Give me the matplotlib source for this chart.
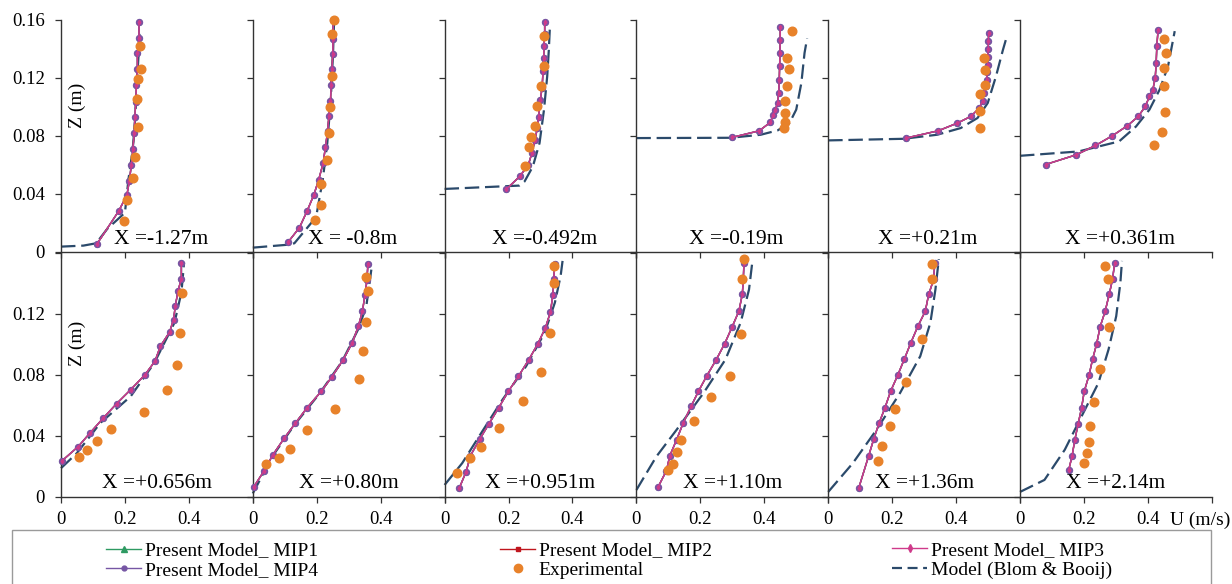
import matplotlib
matplotlib.use('Agg')
import matplotlib.pyplot as plt
from matplotlib.lines import Line2D
from matplotlib.patches import Rectangle

plt.rcParams['font.family'] = ['Liberation Serif', 'DejaVu Serif']

# ---------------- data ----------------
panel_labels = ["X =-1.27m", "X = -0.8m", "X =-0.492m", "X =-0.19m", "X =+0.21m", "X =+0.361m",
                "X =+0.656m", "X =+0.80m", "X =+0.951m", "X =+1.10m", "X =+1.36m", "X =+2.14m"]

# Present model (MIP1..MIP4 overlap in the figure)
mip_u = [
    [0.112, 0.18, 0.206, 0.214, 0.220, 0.225, 0.229, 0.231, 0.234, 0.236, 0.239, 0.239, 0.244, 0.244],
    [0.11, 0.146, 0.17, 0.191, 0.206, 0.220, 0.227, 0.234, 0.238, 0.243, 0.245, 0.248, 0.25, 0.251, 0.252],
    [0.193, 0.235, 0.262, 0.273, 0.283, 0.290, 0.294, 0.2995, 0.305, 0.308, 0.310, 0.311, 0.313, 0.313],
    [0.30, 0.384, 0.419, 0.428, 0.4345, 0.442, 0.445, 0.447, 0.448, 0.449, 0.45, 0.45],
    [0.243, 0.344, 0.404, 0.446, 0.4725, 0.483, 0.488, 0.493, 0.496, 0.497, 0.499, 0.499, 0.501, 0.501, 0.502],
    [0.080, 0.176, 0.236, 0.289, 0.336, 0.370, 0.392, 0.405, 0.4155, 0.423, 0.426, 0.428, 0.432],
    [0.004, 0.0538, 0.0918, 0.132, 0.174, 0.218, 0.2627, 0.294, 0.311, 0.3396, 0.352, 0.3576, 0.366, 0.3766, 0.3766],
    [0.003, 0.0348, 0.0623, 0.098, 0.133, 0.17, 0.214, 0.248, 0.2826, 0.311, 0.330, 0.343, 0.351, 0.357, 0.36],
    [0.0465, 0.0675, 0.081, 0.11, 0.139, 0.1687, 0.1994, 0.231, 0.2637, 0.292, 0.3155, 0.331, 0.3386, 0.342, 0.344],
    [0.0675, 0.094, 0.1044, 0.1256, 0.1465, 0.171, 0.194, 0.2205, 0.25, 0.2763, 0.2996, 0.3206, 0.3313, 0.3344, 0.3365],
    [0.0959, 0.1266, 0.1424, 0.1593, 0.1772, 0.1952, 0.2173, 0.2384, 0.2585, 0.2806, 0.3038, 0.3143, 0.33, 0.3333],
    [0.1525, 0.163, 0.1715, 0.182, 0.1925, 0.201, 0.2158, 0.2273, 0.24, 0.2506, 0.2665, 0.279, 0.2895, 0.296],
]
mip_z = [
    [0.0053, 0.028, 0.039, 0.049, 0.060, 0.071, 0.082, 0.093, 0.103, 0.115, 0.126, 0.137, 0.147, 0.158],
    [0.0067, 0.0168, 0.0283, 0.0393, 0.0497, 0.061, 0.072, 0.083, 0.0933, 0.104, 0.115, 0.126, 0.1366, 0.1467, 0.1595],
    [0.0432, 0.052, 0.060, 0.068, 0.0772, 0.0853, 0.0929, 0.1048, 0.113, 0.1248, 0.1336, 0.1416, 0.1497, 0.158],
    [0.0789, 0.0834, 0.0892, 0.0945, 0.098, 0.1025, 0.1094, 0.1186, 0.1278, 0.137, 0.146, 0.1547],
    [0.0784, 0.0834, 0.0887, 0.0933, 0.099, 0.104, 0.1094, 0.114, 0.1186, 0.1237, 0.129, 0.1343, 0.1398, 0.145, 0.1508],
    [0.0602, 0.0669, 0.0733, 0.080, 0.0869, 0.0933, 0.1002, 0.1071, 0.1117, 0.1198, 0.130, 0.1416, 0.153],
    [0.0236, 0.0328, 0.042, 0.0515, 0.061, 0.0702, 0.080, 0.0889, 0.0988, 0.108, 0.1163, 0.1251, 0.135, 0.1432, 0.1533],
    [0.0063, 0.0167, 0.0272, 0.0382, 0.0481, 0.0584, 0.069, 0.0788, 0.0898, 0.1009, 0.1118, 0.1217, 0.1327, 0.142, 0.1525],
    [0.0058, 0.0164, 0.0269, 0.0377, 0.0478, 0.0581, 0.0691, 0.079, 0.090, 0.1005, 0.1109, 0.1212, 0.1322, 0.1427, 0.1526],
    [0.0061, 0.017, 0.0267, 0.0372, 0.0483, 0.0592, 0.0691, 0.0794, 0.090, 0.1005, 0.1115, 0.1218, 0.1328, 0.1427, 0.1537],
    [0.0058, 0.0267, 0.0377, 0.0483, 0.0581, 0.0691, 0.0796, 0.0904, 0.101, 0.1119, 0.1218, 0.1328, 0.1427, 0.1533],
    [0.0175, 0.0267, 0.0372, 0.0478, 0.0581, 0.0691, 0.0796, 0.0904, 0.1005, 0.1115, 0.1218, 0.1328, 0.1427, 0.1533],
]

# Experimental
exp_u = [
    [0.198, 0.205, 0.224, 0.231, 0.240, 0.239, 0.240, 0.250, 0.248],
    [0.195, 0.212, 0.214, 0.231, 0.237, 0.2415, 0.247, 0.249, 0.253],
    [0.251, 0.264, 0.271, 0.283, 0.289, 0.302, 0.310, 0.312],
    [0.461, 0.465, 0.465, 0.465, 0.4715, 0.477, 0.4715, 0.487],
    [0.4757, 0.4757, 0.4757, 0.4915, 0.4905, 0.486],
    [0.418, 0.444, 0.4547, 0.4505, 0.449, 0.458, 0.4505],
    [0.056, 0.082, 0.114, 0.157, 0.2595, 0.331, 0.363, 0.373, 0.379],
    [0.040, 0.082, 0.115, 0.168, 0.256, 0.331, 0.346, 0.3555, 0.36, 0.3535],
    [0.038, 0.078, 0.113, 0.1687, 0.2447, 0.3028, 0.331, 0.3428, 0.3407],
    [0.099, 0.1149, 0.1256, 0.138, 0.181, 0.234, 0.2943, 0.326, 0.3313, 0.3365],
    [0.156, 0.1687, 0.193, 0.2099, 0.2437, 0.2933, 0.325, 0.325],
    [0.201, 0.2094, 0.2158, 0.219, 0.2304, 0.2506, 0.277, 0.2747, 0.2665],
]
exp_z = [
    [0.0216, 0.036, 0.051, 0.0655, 0.086, 0.105, 0.119, 0.126, 0.142],
    [0.0219, 0.0322, 0.0467, 0.063, 0.082, 0.0998, 0.121, 0.150, 0.1595],
    [0.0593, 0.0726, 0.0788, 0.0864, 0.1007, 0.1145, 0.128, 0.1485],
    [0.0853, 0.0892, 0.0956, 0.1037, 0.114, 0.126, 0.1336, 0.152],
    [0.0853, 0.0968, 0.109, 0.115, 0.125, 0.1336],
    [0.0738, 0.0823, 0.0963, 0.114, 0.1267, 0.137, 0.1467],
    [0.026, 0.0305, 0.0364, 0.0443, 0.0557, 0.070, 0.0862, 0.1076, 0.134],
    [0.0213, 0.0254, 0.0312, 0.0435, 0.0575, 0.0771, 0.0953, 0.1147, 0.1349, 0.1443],
    [0.0157, 0.0252, 0.0328, 0.045, 0.0625, 0.0819, 0.1076, 0.140, 0.1515],
    [0.0175, 0.0214, 0.0295, 0.0372, 0.0498, 0.0654, 0.0794, 0.1071, 0.1432, 0.156],
    [0.0236, 0.0335, 0.046, 0.0577, 0.0753, 0.1032, 0.1432, 0.1526],
    [0.0223, 0.0285, 0.0361, 0.0465, 0.0618, 0.084, 0.1115, 0.1432, 0.1515],
]

# Model (Blom & Booij)
blom_u = [
    [0, 0.07, 0.11, 0.145, 0.20, 0.211, 0.224, 0.232, 0.237, 0.243, 0.246],
    [0, 0.109, 0.13, 0.198, 0.219, 0.233, 0.244, 0.251, 0.254],
    [0, 0.234, 0.25, 0.276, 0.297, 0.311, 0.321, 0.326, 0.329],
    [0, 0.294, 0.389, 0.442, 0.479, 0.5, 0.516, 0.526, 0.534],
    [0, 0.235, 0.341, 0.4146, 0.467, 0.499, 0.525, 0.5465, 0.559],
    [0, 0.1835, 0.31, 0.363, 0.405, 0.4367, 0.463, 0.484],
    [0, 0.0496, 0.123, 0.218, 0.292, 0.355, 0.3766, 0.385],
    [0, 0.06, 0.13, 0.21, 0.28, 0.33, 0.355, 0.365, 0.372],
    [0, 0.055, 0.1076, 0.181, 0.255, 0.313, 0.345, 0.363, 0.369],
    [0, 0.0623, 0.1256, 0.21, 0.2785, 0.326, 0.3523, 0.363],
    [0, 0.077, 0.151, 0.2247, 0.288, 0.3196, 0.3354, 0.346],
    [0, 0.0766, 0.14, 0.1924, 0.2453, 0.277, 0.301, 0.314, 0.319],
]
blom_z = [
    [0.0037, 0.0044, 0.006, 0.016, 0.027, 0.050, 0.070, 0.091, 0.114, 0.137, 0.153],
    [0.003, 0.005, 0.006, 0.024, 0.05, 0.075, 0.105, 0.137, 0.157],
    [0.0434, 0.0457, 0.0485, 0.0588, 0.075, 0.098, 0.121, 0.139, 0.153],
    [0.0784, 0.0786, 0.0807, 0.0837, 0.0888, 0.098, 0.1163, 0.137, 0.147],
    [0.0768, 0.0779, 0.0807, 0.0853, 0.0922, 0.1025, 0.121, 0.139, 0.1485],
    [0.0662, 0.0692, 0.0761, 0.0864, 0.098, 0.1117, 0.1278, 0.152],
    [0.0186, 0.0285, 0.0483, 0.0658, 0.0878, 0.1142, 0.134, 0.1537],
    [0.002, 0.026, 0.047, 0.068, 0.089, 0.110, 0.125, 0.14, 0.151],
    [0.0076, 0.0219, 0.0394, 0.0636, 0.0856, 0.1076, 0.1274, 0.145, 0.1548],
    [0.0043, 0.0262, 0.0438, 0.068, 0.090, 0.1142, 0.136, 0.1548],
    [0.003, 0.0219, 0.0438, 0.068, 0.0922, 0.1142, 0.136, 0.156],
    [0.003, 0.0109, 0.0307, 0.0526, 0.0746, 0.0966, 0.1185, 0.1405, 0.1548],
]

x_ticks = [0, 0.2, 0.4, 0.6]
x_ticklabels = ['0', '0.2', '0.4', '']
y_ticks = [0, 0.04, 0.08, 0.12, 0.16]
y_ticklabels_top = ['0', '0.04', '0.08', '0.12', '0.16']
y_ticklabels_bottom = ['0', '0.04', '0.08', '0.12', '']

series_names = ['Present Model_ MIP1', 'Present Model_ MIP2', 'Present Model_ MIP3',
                'Present Model_ MIP4', 'Experimental', 'Model (Blom & Booij)']

# ---------------- style ----------------
C_MIP1 = '#2e9a62'
C_MIP2 = '#c0161e'
C_MIP3 = '#cf3a8a'
C_MIP4 = '#7656a4'
C_EXP = '#e8822a'
C_BLOM = '#2b4a6b'
C_SPINE = '#333333'
BLOM_DASH = (0, (6.5, 2.6))

W, H = 1232, 584
fig = plt.figure(figsize=(W / 100, H / 100), dpi=100)


def px_axes(l, t, r, b):
    return fig.add_axes([l / W, 1 - b / H, (r - l) / W, (b - t) / H])


col_w = 191.8
left0 = 61.0
rows = [(19.5, 252.0), (253.0, 496.5)]

for i in range(12):
    r, c = divmod(i, 6)
    t, b = rows[r]
    l = left0 + c * col_w
    ax = px_axes(l, t, l + col_w, b)
    ax.patch.set_visible(False)
    ax.set_xlim(0, 0.6)
    ax.set_ylim(0, 0.16)
    for s in ('top', 'right'):
        ax.spines[s].set_visible(False)
    for s in ('left', 'bottom'):
        ax.spines[s].set_color(C_SPINE)
        ax.spines[s].set_linewidth(1.0)

    ax.plot(blom_u[i], blom_z[i], color=C_BLOM, lw=1.6, ls=BLOM_DASH, zorder=2, clip_on=False)
    ax.plot(mip_u[i], mip_z[i], color=C_MIP1, lw=1.0, marker='^', ms=3, zorder=3, clip_on=False)
    ax.plot(mip_u[i], mip_z[i], color=C_MIP2, lw=1.0, marker='s', ms=3, zorder=3, clip_on=False)
    ax.plot(mip_u[i], mip_z[i], color=C_MIP4, lw=1.1, marker='o', ms=4.3, zorder=4, clip_on=False)
    ax.plot(mip_u[i], mip_z[i], color=C_MIP3, lw=0.9, marker='d', ms=2.2, zorder=5, clip_on=False)
    ax.plot(exp_u[i], exp_z[i], ls='none', marker='o', ms=6.2, color=C_EXP, mec=C_EXP, zorder=6, clip_on=False)

    ax.set_xticks(x_ticks)
    ax.set_yticks(y_ticks)
    if r == 1:
        ax.set_xticklabels(x_ticklabels)
    else:
        ax.set_xticklabels([])
    if c == 0:
        ax.set_yticklabels(y_ticklabels_top if r == 0 else y_ticklabels_bottom)
        ax.text(0.083, 0.63, 'Z (m)', rotation=90, transform=ax.transAxes,
                ha='center', va='center', fontsize=14)
    else:
        ax.set_yticklabels([])
    ax.tick_params(axis='both', direction='out', length=4.5, width=0.9, colors=C_SPINE,
                   labelcolor='black', labelsize=13.5)
    ax.tick_params(axis='x', pad=6)
    ax.tick_params(axis='y', pad=7)

    ax.text(0.52 if r == 0 else 0.50, 0.053, panel_labels[i], transform=ax.transAxes,
            ha='center', va='center', fontsize=15.5)

fig.text(1170 / W, 1 - 520 / H, 'U (m/s)', ha='left', va='center', fontsize=14)

# legend frame
fig.patches.append(Rectangle((11.7 / W, -0.01), (1211 - 11.7) / W, (584 - 530) / H + 0.01,
                             transform=fig.transFigure, facecolor='none',
                             edgecolor='#9a9a9a', lw=1.0))

h1 = Line2D([], [], color=C_MIP1, marker='^', ms=4, lw=1.0)
h2 = Line2D([], [], color=C_MIP2, marker='s', ms=3.5, lw=1.0)
h3 = Line2D([], [], color=C_MIP3, marker='d', ms=4, lw=1.0)
h4 = Line2D([], [], color=C_MIP4, marker='o', ms=3.5, lw=1.0)
h5 = Line2D([], [], color=C_EXP, marker='o', ms=6, ls='none')
h6 = Line2D([], [], color=C_BLOM, ls=(0, (4.5, 2.5)), lw=1.6)

leg_kw = dict(loc='center left', frameon=False, borderpad=0, borderaxespad=0,
              handlelength=1.8, handletextpad=0.2, labelspacing=0.12, fontsize=14)
yc = 1 - 560.5 / H
fig.legend([h1, h4], [series_names[0], series_names[3]], bbox_to_anchor=(106 / W, yc), **leg_kw)
fig.legend([h2, h5], [series_names[1], series_names[4]], bbox_to_anchor=(500 / W, yc), **leg_kw)
fig.legend([h3, h6], [series_names[2], series_names[5]], bbox_to_anchor=(892 / W, yc), **leg_kw)

fig.savefig('out.png', dpi=100)
